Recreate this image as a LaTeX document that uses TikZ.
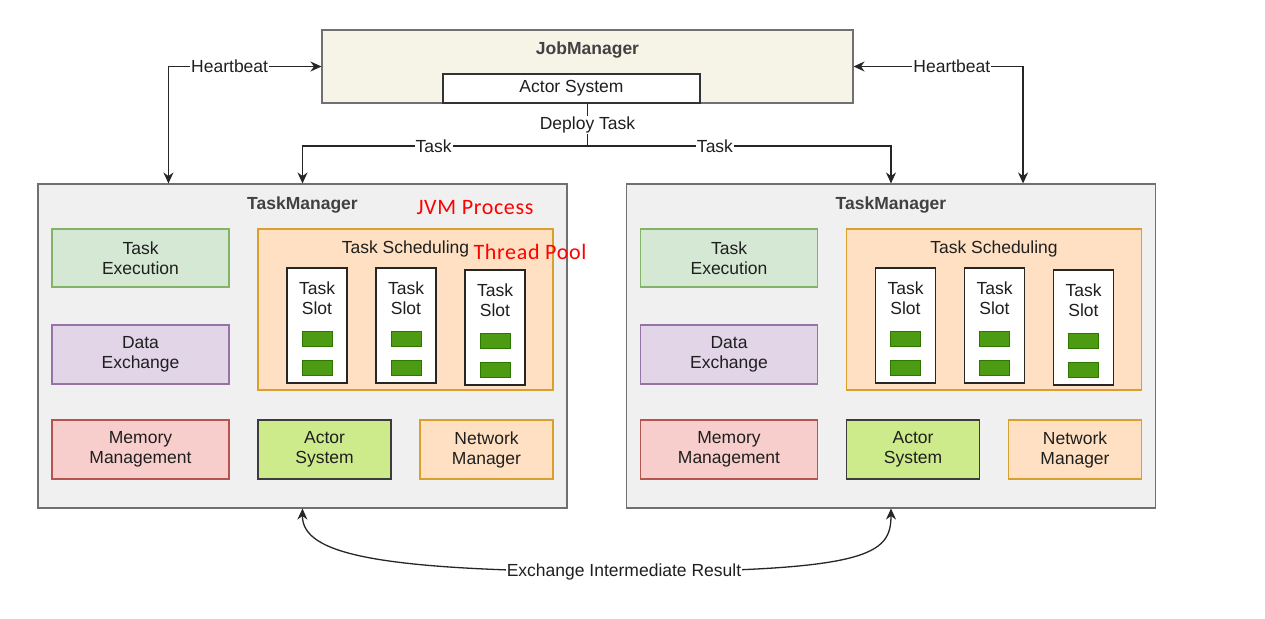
\documentclass[tikz,border=0pt]{standalone}
\usepackage{fontspec}
\setmainfont{Liberation Sans}
\newfontfamily\calib[LetterSpace=3]{Carlito}
\usetikzlibrary{arrows.meta}
\definecolor{txt}{HTML}{1F1F1F}
\definecolor{jmfill}{HTML}{F6F3E7}
\definecolor{tmfill}{HTML}{F0F0F0}
\definecolor{tmline}{HTML}{707070}
\definecolor{gfill}{HTML}{D5E8D4}\definecolor{gline}{HTML}{82B366}
\definecolor{pfill}{HTML}{E1D5E7}\definecolor{pline}{HTML}{9673A6}
\definecolor{rfill}{HTML}{F8CECC}\definecolor{rline}{HTML}{B85450}
\definecolor{ofill}{HTML}{FFE0C2}\definecolor{oline}{HTML}{D9A030}
\definecolor{lfill}{HTML}{CDEB8B}\definecolor{lline}{HTML}{3C3C3C}
\definecolor{sfill}{HTML}{4D9A13}\definecolor{sline}{HTML}{2D7600}
\newcommand{\fsz}{\fontsize{17.5}{20}\selectfont}
\tikzset{
  box/.style={draw, line width=1.1pt, inner sep=0pt, align=center, font=\fsz, text=txt},
  lbl/.style={font=\fsz, text=txt, fill=white, inner sep=1pt},
  ttl/.style={font=\fsz\bfseries, text=txt!85!white},
  redl/.style={font=\calib\fontsize{22}{24}\selectfont, text=red, inner sep=0pt},
  conn/.style={draw=black!85, line width=1.3pt, -{Stealth[length=11pt,width=10pt]}},
  bconn/.style={draw=black!85, line width=1.3pt, {Stealth[length=11pt,width=10pt]}-{Stealth[length=11pt,width=10pt]}},
}
\begin{document}
\begin{tikzpicture}[x=1pt,y=-1pt]
\useasboundingbox (0,0) rectangle (1265,618);
\fill[white] (0,0) rectangle (1265,618);
% JobManager
\node[box, draw=tmline, fill=jmfill, minimum width=531pt, minimum height=73pt] (jm) at (587.5,66.5) {};
\node[ttl] (jmt) at (587.5,50.5) {JobManager};
\node[box, draw=black!80, fill=white, minimum width=257pt, minimum height=29pt] (jas) at (571.5,88.5) {Actor System};
% TaskManagers
\foreach \i/\dx in {1/0,2/588.5}{
  \node[box, draw=tmline, fill=tmfill, minimum width=529pt, minimum height=324pt] (tm\i) at (\dx+302.5,346) {};
  \node[ttl] (tmt\i) at (\dx+302.5,205.5) {TaskManager};
  \node[box, draw=gline, fill=gfill, minimum width=177pt, minimum height=58pt] (te\i) at (\dx+140.5,258) {Task\\Execution};
  \node[box, draw=pline, fill=pfill, minimum width=177pt, minimum height=59pt] (de\i) at (\dx+140.5,354.5) {Data\\Exchange};
  \node[box, draw=rline, fill=rfill, minimum width=177pt, minimum height=59pt] (mm\i) at (\dx+140.5,449.5) {Memory\\Management};
  \node[box, draw=lline, fill=lfill, minimum width=133pt, minimum height=59pt] (as\i) at (\dx+324.5,449.5) {Actor\\System};
  \node[box, draw=oline, fill=ofill, minimum width=133pt, minimum height=59pt] (nm\i) at (\dx+486.5,449.5) {Network\\Manager};
  \node[box, draw=oline, fill=ofill, minimum width=295pt, minimum height=161pt] (ts\i) at (\dx+405.5,309.5) {};
  \node[font=\fsz, text=txt] (tst\i) at (\dx+405.5,249) {Task Scheduling};
  \foreach \j/\sx/\sy in {a/317/325.5,b/406/325.5,c/495/327.5}{
    \node[box, draw=black!85, fill=white, minimum width=60pt, minimum height=115pt] (slot\i\j) at (\dx+\sx,\sy) {};
    \node[font=\fsz, text=txt, align=center] (slott\i\j) at (\dx+\sx,\sy-27.5) {Task\\Slot};
    \node[draw=sline, fill=sfill, line width=0.8pt, minimum width=30pt, minimum height=15pt, inner sep=0pt] (g1\i\j) at (\dx+\sx,\sy+13.5) {};
    \node[draw=sline, fill=sfill, line width=0.8pt, minimum width=30pt, minimum height=15pt, inner sep=0pt] (g2\i\j) at (\dx+\sx,\sy+42) {};
  }
}
\node[redl] (jvm) at (475,208) {JVM Process};
\node[redl] (tp) at (530,252) {Thread Pool};
% Deploy task
\coordinate (split) at (587.5,146);
\draw[draw=black!85, line width=1.3pt] (jm.south) -- node[lbl] (dep) {Deploy Task} (split);
\draw[conn] (split) -| node[lbl, pos=0.27] (tk1) {Task} (tm1.north);
\draw[conn] (split) -| node[lbl, pos=0.21] (tk2) {Task} (tm2.north);
% Heartbeats
\coordinate (hbL) at ([xshift=131pt]tm1.north west);
\coordinate (hbR) at ([xshift=-133pt]tm2.north east);
\draw[bconn] (jm.west) -| node[lbl, pos=0.3] (hb1) {Heartbeat} (hbL);
\draw[bconn] (jm.east) -| node[lbl, pos=0.29] (hb2) {Heartbeat} (hbR);
% Exchange
\coordinate (ex) at (624,572);
\draw[bconn] (tm1.south) .. controls (302,555) and (380,571) .. (ex) .. controls (868,571) and (891,555) .. (tm2.south);
\node[lbl] (exl) at (ex) {Exchange Intermediate Result};
\end{tikzpicture}
\end{document}
